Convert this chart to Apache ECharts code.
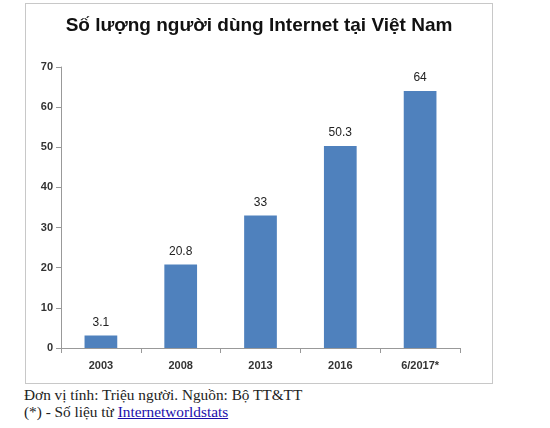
<!DOCTYPE html>
<html>
<head>
<meta charset="utf-8">
<script src="https://cdn.jsdelivr.net/npm/echarts@6/dist/echarts.min.js"></script>
<style>
body{margin:0;background:#fff;}
#frame{position:absolute;left:25px;top:3px;width:466px;height:379px;border:1px solid #c8c8c8;}
#chart{width:466px;height:379px;}
#note{position:absolute;left:24px;top:386px;font-family:"Liberation Serif",serif;font-size:15.3px;line-height:17px;color:#222;}
#note a{color:#1a0dab;}
</style>
</head>
<body>
<div id="frame"><div id="chart"></div></div>
<div id="note">Đơn vị tính: Triệu người. Nguồn: Bộ TT&amp;TT<br>(*) - Số liệu từ <a href="#">Internetworldstats</a></div>
<script>
var years = ["2003", "2008", "2013", "2016", "6/2017*"];
var users = [3.1, 20.8, 33, 50.3, 64];

var chart = echarts.init(document.getElementById('chart'));
chart.setOption({
	animation: false,
	title: {
		text: 'Số lượng người dùng Internet tại Việt Nam',
		left: 'center', top: 7,
		textStyle: {fontFamily: 'Liberation Sans', fontSize: 19, fontWeight: 'bold', color: '#111'}
	},
	grid: {left: 35, right: 32, top: 63, bottom: 35},
	xAxis: {
		type: 'category', data: years,
		axisLine: {lineStyle: {color: '#999'}},
		axisTick: {show: true, lineStyle: {color: '#999'}},
		axisLabel: {color: '#333', fontSize: 11, fontWeight: 'bold', fontFamily: 'Liberation Sans', margin: 12}
	},
	yAxis: {
		type: 'value', min: 0, max: 70, interval: 10,
		splitLine: {show: false},
		axisLine: {show: true, lineStyle: {color: '#999'}},
		axisTick: {show: true, lineStyle: {color: '#999'}},
		axisLabel: {color: '#333', fontSize: 11, fontWeight: 'bold', fontFamily: 'Liberation Sans', margin: 8}
	},
	series: [{
		type: 'bar', data: users, barWidth: '41%',
		itemStyle: {color: '#4f81bd'},
		label: {show: true, position: 'top', color: '#222', fontSize: 12, fontFamily: 'Liberation Sans', distance: 7}
	}]
});
</script>
</body>
</html>
